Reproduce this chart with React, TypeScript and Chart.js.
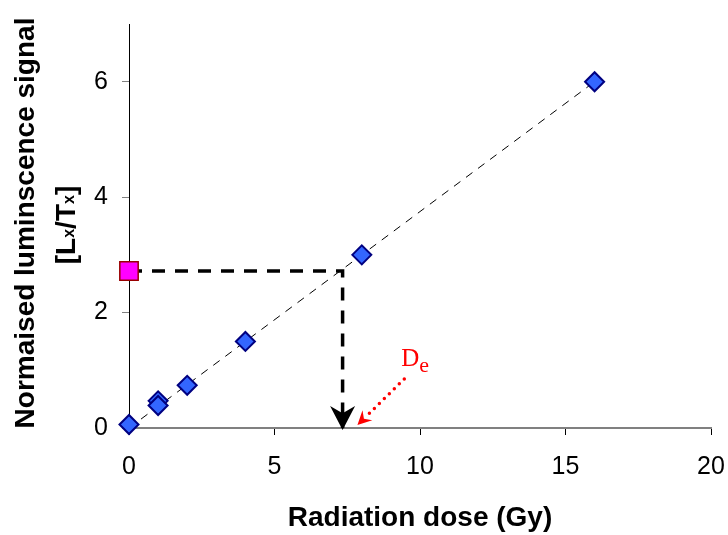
import React, { useEffect, useRef } from 'react';
import { Chart, registerables } from 'chart.js';

Chart.register(...registerables);

// regenerated dose points (Gy) and their normalised signal
const doseGy = [0, 1, 1, 2, 4, 8, 16];
const signalLxTx = [0.06, 0.47, 0.39, 0.74, 1.5, 3.0, 6.0];

// fitted dose-response line
const fitDose = [0, 16];
const fitSignal = [0, 6];

const naturalSignal = 2.72;
const equivalentDose = 7.34;

// De label arrow (start -> tip, in data units)
const deArrowDose = [9.46, 7.85];
const deArrowSignal = [0.85, 0.05];

const xTicks = [0, 5, 10, 15, 20];
const yTicks = [0, 2, 4, 6];

const SANS = '"Liberation Sans", Arial, sans-serif';
const SERIF = '"Liberation Serif", "Times New Roman", serif';

function stealthHead(ctx: CanvasRenderingContext2D, tx: number, ty: number, angle: number, len: number, hw: number, notch: number) {
    const dx = Math.cos(angle), dy = Math.sin(angle);
    const nx = -dy, ny = dx;
    const bx = tx - dx * len, by = ty - dy * len;
    ctx.beginPath();
    ctx.moveTo(tx, ty);
    ctx.lineTo(bx + nx * hw, by + ny * hw);
    ctx.lineTo(tx - dx * len * notch, ty - dy * len * notch);
    ctx.lineTo(bx - nx * hw, by - ny * hw);
    ctx.closePath();
    ctx.fill();
}

const annotations = {
    id: 'annotations',
    afterDatasetsDraw(chart: any) {
        const { ctx, scales } = chart;
        const x = scales.x, y = scales.y;
        ctx.save();

        // black arrow head at the end of the interpolation
        ctx.fillStyle = '#000';
        stealthHead(ctx, x.getPixelForValue(equivalentDose), y.getPixelForValue(0) + 2, Math.PI / 2, 24, 12.5, 0.7);

        // red dotted arrow pointing at De
        const sx = x.getPixelForValue(deArrowDose[0]);
        const sy = y.getPixelForValue(deArrowSignal[0]);
        const tx = x.getPixelForValue(deArrowDose[1]);
        const ty = y.getPixelForValue(deArrowSignal[1]);
        const ang = Math.atan2(ty - sy, tx - sx);
        const headLen = 14;
        ctx.strokeStyle = '#FF0000';
        ctx.fillStyle = '#FF0000';
        ctx.lineWidth = 3.5;
        ctx.lineCap = 'round';
        ctx.setLineDash([0, 7]);
        ctx.beginPath();
        ctx.moveTo(sx, sy);
        ctx.lineTo(tx - Math.cos(ang) * headLen * 0.8, ty - Math.sin(ang) * headLen * 0.8);
        ctx.stroke();
        ctx.setLineDash([]);
        stealthHead(ctx, tx, ty, ang, headLen, 7, 0.65);

        // De label
        const lx = sx - 3;
        const ly = y.getPixelForValue(1.07);
        ctx.textAlign = 'left';
        ctx.textBaseline = 'alphabetic';
        ctx.font = '25px ' + SERIF;
        ctx.fillText('D', lx, ly);
        const dw = ctx.measureText('D').width;
        ctx.font = '22px ' + SERIF;
        ctx.fillText('e', lx + dw, ly + 6);
        ctx.restore();
    },
    afterDraw(chart: any) {
        const { ctx, chartArea } = chart;
        const mid = (chartArea.top + chartArea.bottom) / 2;
        ctx.save();
        ctx.fillStyle = '#000';
        ctx.textBaseline = 'alphabetic';

        // first line of the y title
        ctx.save();
        ctx.translate(34, mid - 3);
        ctx.rotate(-Math.PI / 2);
        ctx.textAlign = 'center';
        ctx.font = 'bold 28px ' + SANS;
        ctx.fillText('Normaised luminscence signal', 0, 0);
        ctx.restore();

        // second line with subscripts
        const parts: [string, boolean][] = [['[L', false], ['x', true], ['/T', false], ['x', true], [']', false]];
        const big = 'bold 28px ' + SANS;
        const small = 'bold 16px ' + SANS;
        let total = 0;
        for (const [t, sub] of parts) {
            ctx.font = sub ? small : big;
            total += ctx.measureText(t).width;
        }
        ctx.translate(75, mid - 1);
        ctx.rotate(-Math.PI / 2);
        ctx.textAlign = 'left';
        let px = -total / 2;
        for (const [t, sub] of parts) {
            ctx.font = sub ? small : big;
            ctx.fillText(t, px, sub ? -1 : 0);
            px += ctx.measureText(t).width;
        }
        ctx.restore();
    },
};

export default function App() {
    const canvasRef = useRef<HTMLCanvasElement>(null);

    useEffect(() => {
        if (!canvasRef.current) return;
        const chart = new Chart(canvasRef.current, {
            type: 'scatter',
            data: {
                datasets: [
                    {
                        data: doseGy.map((d, i) => ({ x: d, y: signalLxTx[i] })),
                        pointStyle: 'rectRot',
                        pointRadius: 9.5,
                        backgroundColor: '#3366FF',
                        borderColor: '#000080',
                        borderWidth: 2,
                        clip: false,
                    },
                    {
                        data: [{ x: 0, y: naturalSignal }],
                        pointStyle: 'rect',
                        pointRadius: 13,
                        backgroundColor: '#FF00FF',
                        borderColor: '#990000',
                        borderWidth: 1.5,
                        clip: false,
                    },
                    {
                        data: [
                            { x: 0, y: naturalSignal },
                            { x: equivalentDose, y: naturalSignal },
                            { x: equivalentDose, y: 0 },
                        ],
                        showLine: true,
                        pointRadius: 0,
                        borderColor: '#000',
                        borderWidth: 3.5,
                        borderDash: [13, 10],
                        borderJoinStyle: 'miter',
                        clip: false,
                    },
                    {
                        data: fitDose.map((d, i) => ({ x: d, y: fitSignal[i] })),
                        showLine: true,
                        pointRadius: 0,
                        borderColor: '#000',
                        borderWidth: 1,
                        borderDash: [8, 7],
                    },
                ],
            },
            options: {
                animation: false,
                responsive: false,
                layout: { padding: { left: 0, right: 17, top: 24, bottom: 0 } },
                plugins: {
                    legend: { display: false },
                    tooltip: { enabled: false },
                },
                scales: {
                    x: {
                        type: 'linear',
                        min: 0,
                        max: 20,
                        afterBuildTicks: (s: any) => { s.ticks = xTicks.map((v) => ({ value: v })); },
                        afterFit: (s: any) => {
                            s.height = 107;
                            s.paddingLeft = 0;
                            s.paddingRight = 0;
                        },
                        grid: { drawOnChartArea: false, tickLength: 7, color: '#000', lineWidth: 1 },
                        border: { color: '#808080', width: 2 },
                        ticks: { padding: 17, color: '#000', font: { family: SANS, size: 25 } },
                        title: {
                            display: true,
                            text: 'Radiation dose (Gy)',
                            color: '#000',
                            font: { family: SANS, size: 28, weight: 'bold' },
                            padding: { top: 0, bottom: 0 },
                        },
                    },
                    y: {
                        type: 'linear',
                        min: 0,
                        max: 7,
                        afterBuildTicks: (s: any) => { s.ticks = yTicks.map((v) => ({ value: v })); },
                        afterFit: (s: any) => {
                            s.width = 129;
                            s.paddingTop = 0;
                            s.paddingBottom = 0;
                        },
                        grid: { drawOnChartArea: false, tickLength: 7, color: '#808080', lineWidth: 1 },
                        border: { color: '#000', width: 1 },
                        ticks: { padding: 14, color: '#000', font: { family: SANS, size: 25 } },
                    },
                },
            },
            plugins: [annotations],
        } as any);
        return () => chart.destroy();
    }, []);

    return (
        <div style={{ position: 'absolute', left: 0, top: 0, width: 728, height: 535, background: '#fff' }}>
            <canvas ref={canvasRef} width={728} height={535} />
        </div>
    );
}
